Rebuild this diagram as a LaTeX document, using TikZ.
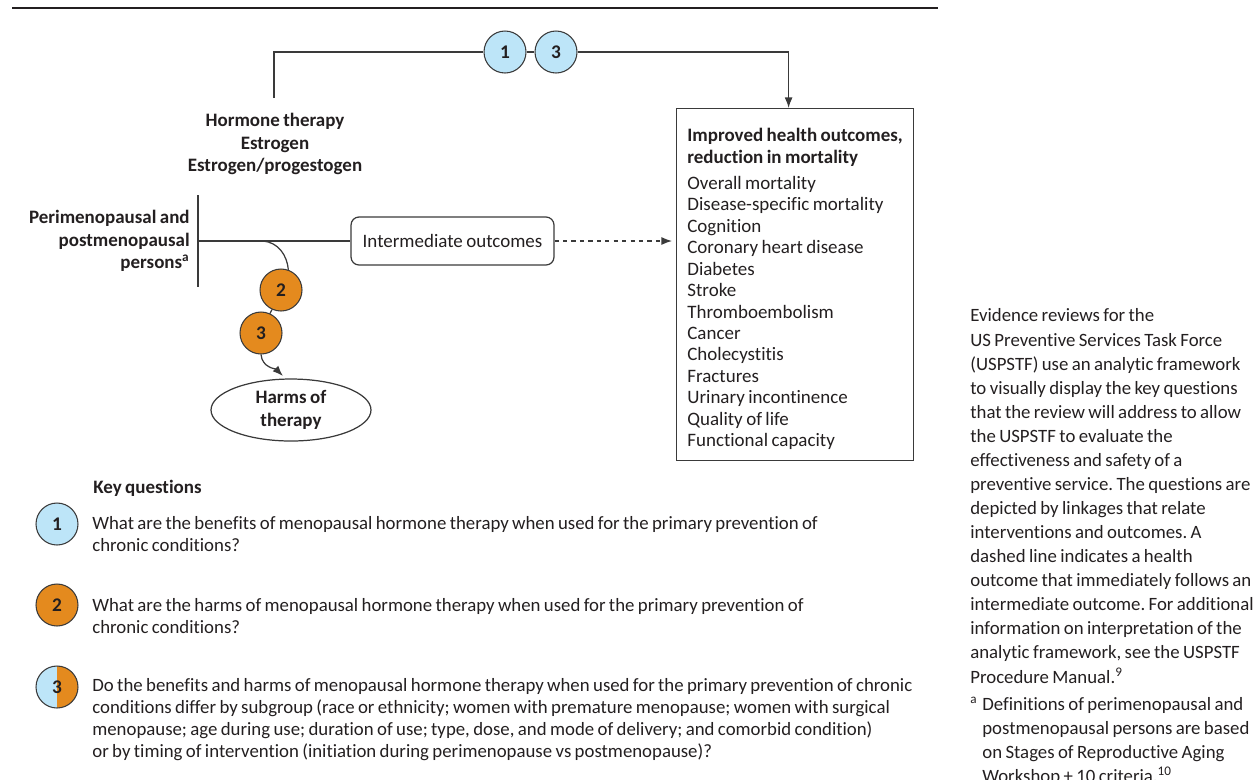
\documentclass[tikz,border=0pt]{standalone}
\usepackage{fontspec}
\setmainfont{Carlito}[WordSpace=0.8,Ligatures=NoCommon]
\frenchspacing
\usetikzlibrary{shapes.geometric,arrows.meta}
\definecolor{kqblue}{HTML}{BDE5F8}
\definecolor{kqorange}{HTML}{E48A1E}
\definecolor{inkgray}{HTML}{231F20}
\definecolor{linegray}{HTML}{3A3A3A}
\newcommand{\diagfont}{\fontsize{10.8pt}{12.2pt}\selectfont}
\newcommand{\qfont}{\fontsize{10.7pt}{12.6pt}\selectfont}
\newcommand{\labfont}{\fontsize{10.8pt}{12.8pt}\selectfont\bfseries}
\newcommand{\notefont}{\fontsize{10.7pt}{13.7pt}\selectfont}
\tikzset{
  every node/.style={text=inkgray},
  kq/.style={circle,draw=linegray,line width=0.6pt,minimum size=0.84cm,inner sep=0pt,
    font=\fontsize{11pt}{11pt}\selectfont\bfseries},
  kqb/.style={kq,fill=kqblue},
  kqo/.style={kq,fill=kqorange},
  link/.style={draw=linegray,line width=0.7pt},
  arr/.style={link,-{Latex[length=6pt,width=4.5pt]}},
  dotarr/.style={arr,dash pattern=on 2.4pt off 2.4pt},
  plaintext/.style={inner sep=0pt,align=left,font=\diagfont}
}
\begin{document}
\begin{tikzpicture}[x=0.02cm,y=-0.02cm]
\useasboundingbox (0,0) rectangle (1256,779);
\draw[draw=inkgray,line width=1.1pt] (12,8) -- (938,8);

\node[kqb] (k1) at (505,52) {1};
\node[kqb] (k3) at (556,52) {3};
\node[align=center,inner sep=0pt,font=\labfont] (horm) at (275,144)
  {Hormone therapy\\Estrogen\\Estrogen/progestogen};
\node[anchor=east,align=right,inner sep=0pt,font=\labfont] (pop) at (190,241)
  {Perimenopausal and\\postmenopausal\\persons\textsuperscript{a}};
\node[draw=linegray,line width=0.7pt,rounded corners=0.16cm,minimum width=4.06cm,
  minimum height=0.96cm,font=\diagfont] (inter) at (452.5,241) {Intermediate outcomes};
\node[draw=linegray,line width=0.7pt,anchor=north west,minimum height=7.04cm,
  minimum width=4.74cm,inner sep=0pt,align=left,font=\diagfont] (outbox) at (676,108)
  {\rule{0pt}{12.6pt}\textbf{Improved health outcomes,}\\\textbf{reduction in mortality}\\[0.1cm]
   Overall mortality\\Disease-specific mortality\\Cognition\\Coronary heart disease\\
   Diabetes\\Stroke\\Thromboembolism\\Cancer\\Cholecystitis\\Fractures\\
   Urinary incontinence\\Quality of life\\Functional capacity};
\node[kqo] (k2) at (281,290) {2};
\node[kqo] (k3b) at (261,333) {3};
\node[ellipse,draw=linegray,line width=0.7pt,minimum width=3.2cm,minimum height=1.24cm,
  inner sep=0pt,align=center,font=\labfont] (harms) at (291,410) {Harms of\\therapy};

\coordinate (htop) at (274,98);
\coordinate (bartop) at (198,195);
\coordinate (barmid) at (198,241);
\coordinate (barbot) at (198,287);
\coordinate (split) at (263,241);

\draw[link] (htop) |- (k1.west);
\draw[link] (k1) -- (k3);
\draw[arr] (k3.east) -| ([xshift=-0.13cm]outbox.north);
\draw[link] (bartop) -- (barbot);
\draw[link] (barmid) -- (inter.west);
\draw[dotarr,shorten >=0.08cm] (inter.east) -- (inter.east -| outbox.west);
\draw[link] (split) to[out=-5,in=95] (k2.70);
\draw[link] (k2) -- (k3b);
\draw[arr,shorten >=2pt] (k3b.south) to[out=-85,in=135] (harms.100);

\node[anchor=west,inner sep=0pt,font=\labfont] (kqhead) at (93,488) {Key questions};
\node[kqb] (l1) at (57,524) {1};
\node[kqo] (l2) at (57,605) {2};
\node[kqb,path picture={\fill[kqorange] (path picture bounding box.north)
  rectangle (path picture bounding box.south east);}] (l3) at (57,687) {3};
\node[plaintext,font=\qfont,anchor=west] (q1) at (92,534)
  {What are the benefits of menopausal hormone therapy when used for the primary prevention of\\
   chronic conditions?};
\node[plaintext,font=\qfont,anchor=west] (q2) at (92,616)
  {What are the harms of menopausal hormone therapy when used for the primary prevention of\\
   chronic conditions?};
\node[plaintext,font=\qfont,anchor=west] (q3) at (92,719.5)
  {Do the benefits and harms of menopausal hormone therapy when used for the primary prevention of chronic\\
   conditions differ by subgroup (race or ethnicity; women with premature menopause; women with surgical\\
   menopause; age during use; duration of use; type, dose, and mode of delivery; and comorbid condition)\\
   or by timing of intervention (initiation during perimenopause vs postmenopause)?};

\node[plaintext,font=\notefont,anchor=west] (note) at (970,496)
  {Evidence reviews for the\\
   US Preventive Services Task Force\\
   (USPSTF) use an analytic framework\\
   to visually display the key questions\\
   that the review will address to allow\\
   the USPSTF to evaluate the\\
   effectiveness and safety of a\\
   preventive service. The questions are\\
   depicted by linkages that relate\\
   interventions and outcomes. A\\
   dashed line indicates a health\\
   outcome that immediately follows an\\
   intermediate outcome. For additional\\
   information on interpretation of the\\
   analytic framework, see the USPSTF\\
   Procedure Manual.\textsuperscript{9}};
\node[plaintext,font=\notefont,anchor=west] (fnote) at (970,741)
  {\makebox[0.24cm][l]{\textsuperscript{a}}Definitions of perimenopausal and\\
   \hspace*{0.24cm}postmenopausal persons are based\\
   \hspace*{0.24cm}on Stages of Reproductive Aging\\
   \hspace*{0.24cm}Workshop + 10 criteria.\textsuperscript{10}};
\end{tikzpicture}
\end{document}
